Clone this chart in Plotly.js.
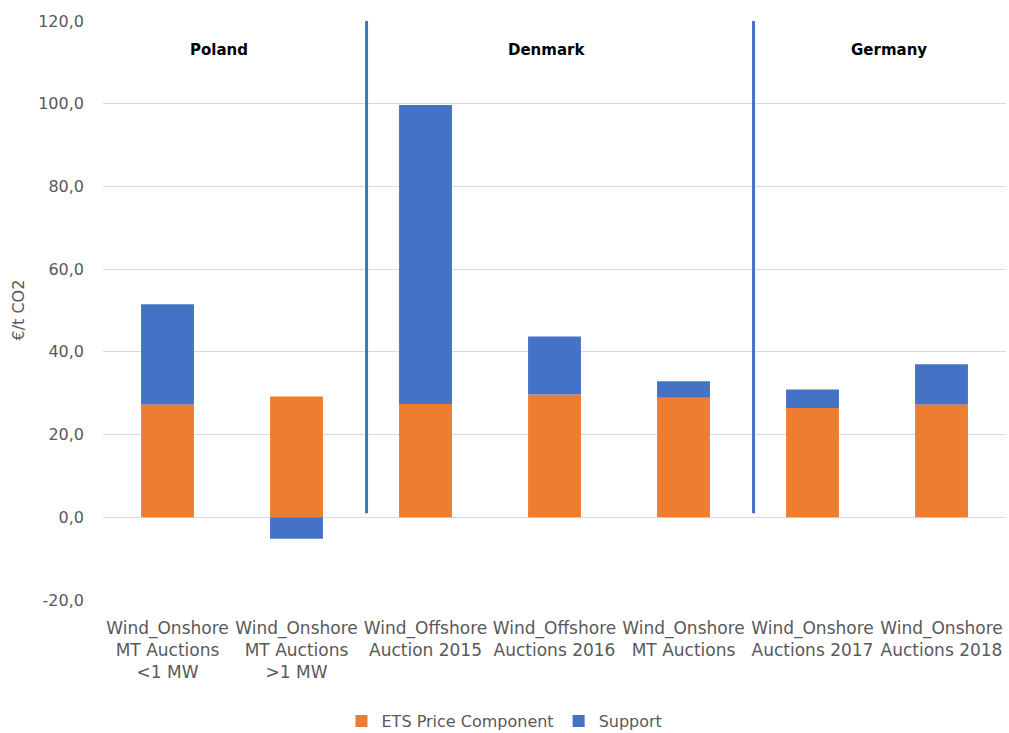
<!DOCTYPE html>
<html>
<head>
<meta charset="utf-8">
<script src="https://cdn.plot.ly/plotly-3.0.1.min.js"></script>
<style>html,body{margin:0;padding:0;background:#fff;}#chart{width:1009px;height:733px;}</style>
</head>
<body>
<div id="chart"></div>
<script>
const categories = [
  "Wind_Onshore<br>MT Auctions<br><1 MW",
  "Wind_Onshore<br>MT Auctions<br>>1 MW",
  "Wind_Offshore<br>Auction 2015",
  "Wind_Offshore<br>Auctions 2016",
  "Wind_Onshore<br>MT Auctions",
  "Wind_Onshore<br>Auctions 2017",
  "Wind_Onshore<br>Auctions 2018"
];
const etsPrice = [27.3, 29.2, 27.4, 29.7, 28.9, 26.4, 27.3];
const support = [24.2, -5.2, 72.3, 14.0, 4.0, 4.5, 9.7];
const yTickVals = [-20, 0, 20, 40, 60, 80, 100, 120];
const yTickText = ["-20,0", "0,0", "20,0", "40,0", "60,0", "80,0", "100,0", "120,0"];
const countries = ["Poland", "Denmark", "Germany"];
const countryPos = [0.40, 2.94, 5.59];
const separators = [1.543, 4.543];

const font = "'DejaVu Sans', sans-serif";

const traces = [
  {type: "bar", name: "ETS Price Component", x: categories, y: etsPrice,
   marker: {color: "#ED7D31", line: {width: 0}}},
  {type: "bar", name: "Support", x: categories, y: support,
   marker: {color: "#4472C4", line: {width: 0}}}
];

const shapes = separators.map(s => ({
  type: "line", xref: "x", yref: "y", x0: s, x1: s, y0: 1, y1: 120,
  line: {color: "#4472C4", width: 3}
}));

const annotations = countries.map((c, i) => ({
  text: "<b>" + c + "</b>", xref: "x", yref: "y", x: countryPos[i], y: 112.9,
  showarrow: false, font: {family: font, size: 15, color: "#000"}
}));
annotations.push({
  text: "€/t CO2", xref: "paper", yref: "paper", x: -85 / 903, y: 0.5,
  xanchor: "center", yanchor: "middle", textangle: -90, showarrow: false,
  font: {family: font, size: 16, color: "#595959"}
});

const layout = {
  width: 1009, height: 733,
  margin: {l: 103, r: 3, t: 21, b: 133, autoexpand: false},
  paper_bgcolor: "#fff", plot_bgcolor: "#fff",
  barmode: "relative", bargap: 0.59,
  font: {family: font, size: 16, color: "#595959"},
  xaxis: {type: "category", showgrid: false, zeroline: false, showline: false,
          ticks: "", ticklabelstandoff: 16,
          tickfont: {size: 17, color: "#595959"}, automargin: false},
  yaxis: {range: [-20, 120], tickmode: "array", tickvals: yTickVals, ticktext: yTickText,
          showgrid: true, gridcolor: "#d9d9d9", gridwidth: 1,
          zeroline: true, zerolinecolor: "#d9d9d9", zerolinewidth: 1,
          showline: false, ticks: "", ticklabelstandoff: 18,
          tickfont: {size: 16, color: "#595959"},
          automargin: false},
  legend: {orientation: "h", x: 0.5, xanchor: "center", xref: "container",
           y: 12 / 733, yanchor: "middle", yref: "container",
           font: {size: 16, color: "#595959"}, traceorder: "normal"},
  shapes: shapes,
  annotations: annotations,
  showlegend: true
};

Plotly.newPlot("chart", traces, layout, {displayModeBar: false, staticPlot: true});
</script>
</body>
</html>
